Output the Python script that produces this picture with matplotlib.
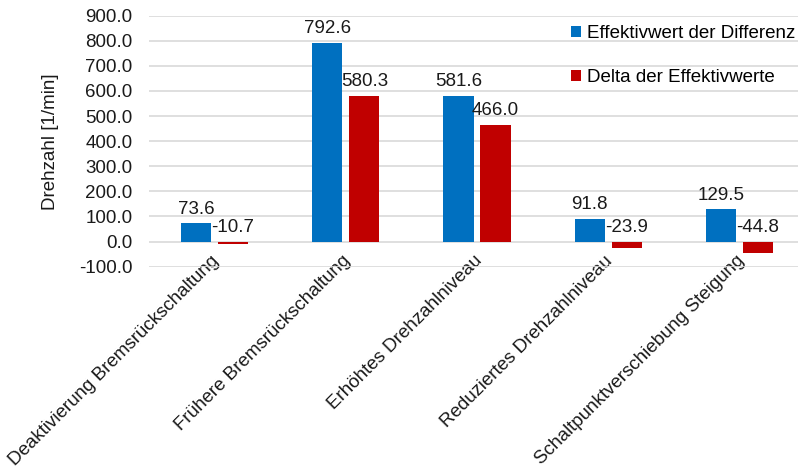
import numpy as np
import matplotlib
matplotlib.use("Agg")
import matplotlib.pyplot as plt
from matplotlib.transforms import ScaledTranslation

plt.rcParams['font.family'] = ['Liberation Sans', 'DejaVu Sans']

categories = [
    "Deaktivierung Bremsrückschaltung",
    "Frühere Bremsrückschaltung",
    "Erhöhtes Drehzahlniveau",
    "Reduziertes Drehzahlniveau",
    "Schaltpunktverschiebung Steigung",
]
effektivwert_differenz = [73.6, 792.6, 581.6, 91.8, 129.5]
delta_effektivwerte = [-10.7, 580.3, 466.0, -23.9, -44.8]
series_names = ["Effektivwert der Differenz", "Delta der Effektivwerte"]
y_ticks = [-100, 0, 100, 200, 300, 400, 500, 600, 700, 800, 900]

BLUE = "#0070C0"
RED = "#C00000"
GRID = "#D9D9D9"
FS = 13.5

fig = plt.figure(figsize=(7.98, 4.69), dpi=100)
ax = fig.add_axes([149 / 798, 1 - 266.7 / 469, 656 / 798, 251 / 469])

x = np.arange(len(categories))
w = 0.229
off = 0.141
b1 = ax.bar(x - off, effektivwert_differenz, w, color=BLUE, label=series_names[0], zorder=3)
b2 = ax.bar(x + off, delta_effektivwerte, w, color=RED, label=series_names[1], zorder=3)

for bars, vals in ((b1, effektivwert_differenz), (b2, delta_effektivwerte)):
    for rect, v in zip(bars, vals):
        ax.annotate(f"{v:.1f}", xy=(rect.get_x() + rect.get_width() / 2, max(v, 0)),
                    xytext=(0, 4), textcoords="offset points",
                    ha="center", va="bottom", fontsize=FS, color="#1a1a1a", zorder=4)

ax.set_xlim(-0.5, len(categories) - 0.5)
ax.set_ylim(-100, 900)
ax.set_yticks(y_ticks)
ax.set_yticklabels([f"{t:.1f}" for t in y_ticks])
ax.yaxis.grid(True, color=GRID, linewidth=1.2, zorder=0)
ax.set_axisbelow(True)
for s in ax.spines.values():
    s.set_visible(False)
ax.tick_params(axis="y", length=0, pad=12, labelsize=FS, labelcolor="#1a1a1a")
ax.tick_params(axis="x", length=0, pad=0, labelsize=FS, labelcolor="#1a1a1a")
ax.set_xticks(x)
ax.set_xticklabels(categories, rotation=45, ha="right", va="center", rotation_mode="anchor")
shift = ScaledTranslation(1.5 / 72, 6 / 72, fig.dpi_scale_trans)
for lbl in ax.get_xticklabels():
    lbl.set_transform(lbl.get_transform() + shift)
ax.set_ylabel("Drehzahl [1/min]", fontsize=FS, color="#1a1a1a", labelpad=14)

ax.legend(loc="upper left", bbox_to_anchor=(571 / 798, 1 - 25 / 469),
          bbox_transform=fig.transFigure, frameon=False, fontsize=FS,
          handlelength=0.55, handleheight=0.55, handletextpad=0.3,
          labelspacing=1.45, borderpad=0, borderaxespad=0)

fig.savefig("out.png", dpi=100)
